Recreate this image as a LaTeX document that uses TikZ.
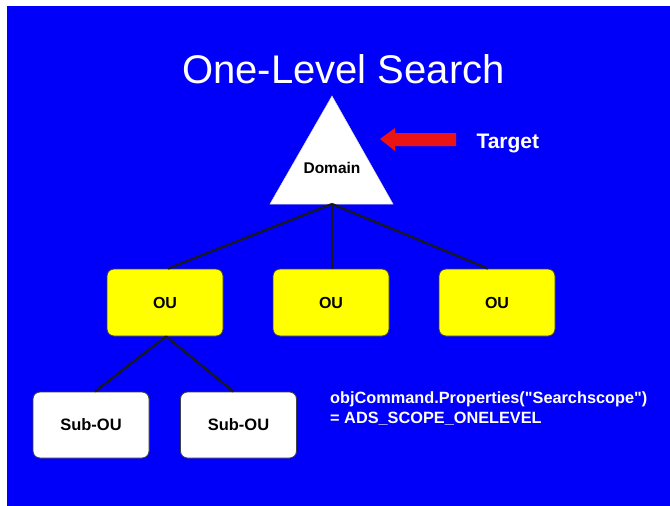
\documentclass[tikz,border=0pt]{standalone}
\usepackage{fontspec}
\setmainfont{Liberation Sans}
\newfontfamily\codefont{Liberation Sans}[Ligatures=TeXOff]
\definecolor{slideblue}{RGB}{0,0,250}
\definecolor{ouyellow}{RGB}{255,255,0}
\definecolor{arrowred}{RGB}{235,20,20}
\begin{document}
\begin{tikzpicture}[x=1pt,y=-1pt,
    oubox/.style={draw=black!75,line width=0.8pt,rounded corners=7pt,fill=ouyellow,
      minimum width=116pt,minimum height=67pt,font=\bfseries\fontsize{16}{16}\selectfont},
    subbox/.style={oubox,fill=white,minimum height=66pt,font=\bfseries\fontsize{16.5}{16.5}\selectfont},
    link/.style={line width=2.2pt,black!90}]
      \useasboundingbox (0,0) rectangle (670,506);
      \fill[slideblue] (7,6) rectangle (670,506);
      \node[white,anchor=base,font=\fontsize{40}{40}\selectfont] (title) at (343.5,83) {One-Level Search};
      % domain triangle
      \coordinate (apex) at (332,96);
      \coordinate (dombase) at (332,204);
      \filldraw[fill=white,draw=white!85!black,line width=0.5pt] (apex) -- (393,204) -- (270,204) -- cycle;
      \node[anchor=base,font=\bfseries\fontsize{15.5}{15.5}\selectfont] (domain) at (332,173) {Domain};
      \fill[arrowred] (380,139) -- (395,128) -- (395,133) -- (456,133) -- (456,146) -- (395,146) -- (395,151) -- cycle;
      \node[white,anchor=base west,font=\bfseries\fontsize{21}{21}\selectfont] (target) at (473,148) {Target};
      % organisational units
      \node[oubox] (ou1) at (165,302.5) {OU};
      \node[oubox] (ou2) at (331,302.5) {OU};
      \node[oubox] (ou3) at (497,302.5) {OU};
      \node[subbox] (sub1) at (91,425) {Sub-OU};
      \node[subbox] (sub2) at (238.5,425) {Sub-OU};
      \draw[link] (dombase) -- ([xshift=3pt]ou1.north);
      \draw[link] (dombase) -- ([xshift=1pt]ou2.north);
      \draw[link] (dombase) -- ([xshift=-9pt]ou3.north);
      \draw[link] ([xshift=1pt]ou1.south) -- ([xshift=4pt]sub1.north);
      \draw[link] ([xshift=1pt]ou1.south) -- ([xshift=-5pt]sub2.north);
      \node[white,anchor=base west,align=left,inner sep=0pt,
        font=\codefont\bfseries\fontsize{16.3}{20}\selectfont] (code) at (330,423)
        {objCommand.Properties("Searchscope")\\= ADS\_SCOPE\_ONELEVEL};
    \end{tikzpicture}
\end{document}
